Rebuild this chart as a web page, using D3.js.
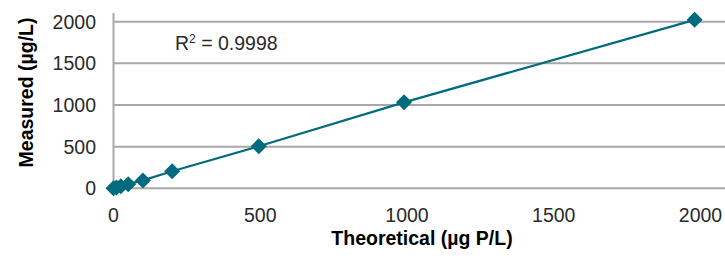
<!DOCTYPE html>
<html><head><meta charset="utf-8">
<script src="https://cdn.jsdelivr.net/npm/d3@7"></script>
<style>body{margin:0;background:#fff}svg{display:block}</style>
</head><body><svg id="c" width="725" height="265"></svg>
<script>
const theoretical = [0, 10, 25, 50, 100, 200, 495, 990, 1980];
const measured = [2, 10, 24, 50, 95, 205, 505, 1032, 2022];
const xTicks = [0, 500, 1000, 1500, 2000];
const yTicks = [0, 500, 1000, 1500, 2000];
const r2Label = "0.9998";
const xTitle = "Theoretical (µg P/L)";
const yTitle = "Measured (µg/L)";

const svg = d3.select("#c");
const font = "'Liberation Sans', Arial, Helvetica, sans-serif";
const x = d3.scaleLinear().domain([0, 2000]).range([113.5, 700.5]);
const y = d3.scaleLinear().domain([0, 2000]).range([188.3, 21.7]);
const plotRight = 725, plotTop = 13;
const grid = "#a8a8a8", teal = "#006b7f";

// gridlines
svg.append("g").selectAll("line").data(yTicks).join("line")
  .attr("x1", x(0)).attr("x2", plotRight)
  .attr("y1", d => y(d)).attr("y2", d => y(d))
  .attr("stroke", grid).attr("stroke-width", 2);
// y axis line
svg.append("line").attr("x1", x(0)).attr("x2", x(0))
  .attr("y1", plotTop).attr("y2", y(0)+1).attr("stroke", grid).attr("stroke-width", 2);

// y tick labels
svg.append("g").selectAll("text").data(yTicks).join("text")
  .attr("x", 96).attr("y", d => y(d)).attr("dy", "0.36em")
  .attr("text-anchor", "end").attr("font-family", font).attr("font-size", 19.5)
  .attr("fill", "#2a2a2a").text(d => d);
// x tick labels
svg.append("g").selectAll("text").data(xTicks).join("text")
  .attr("x", d => x(d)).attr("y", 222)
  .attr("text-anchor", "middle").attr("font-family", font).attr("font-size", 19.5)
  .attr("fill", "#2a2a2a").text(d => d);

// titles
svg.append("text").attr("x", 422).attr("y", 245).attr("text-anchor", "middle")
  .attr("font-family", font).attr("font-size", 19.5).attr("font-weight", "bold")
  .attr("fill", "#000").text(xTitle);
svg.append("text").attr("transform", "translate(33,92.5) rotate(-90)")
  .attr("text-anchor", "middle")
  .attr("font-family", font).attr("font-size", 19.5).attr("font-weight", "bold")
  .attr("fill", "#000").text(yTitle);

// R² label
const rt = svg.append("text").attr("x", 175).attr("y", 50)
  .attr("font-family", font).attr("font-size", 19.5).attr("fill", "#2a2a2a");
rt.append("tspan").text("R");
rt.append("tspan").attr("font-size", 12).attr("dy", -7).text("2");
rt.append("tspan").attr("dy", 7).text(" = " + r2Label);

// line and markers
const pts = theoretical.map((t, i) => [t, measured[i]]);
svg.append("path").datum(pts)
  .attr("d", d3.line().x(d => x(d[0])).y(d => y(d[1])))
  .attr("fill", "none").attr("stroke", teal).attr("stroke-width", 2.2);
const h = 8;
svg.append("g").selectAll("path").data(pts).join("path")
  .attr("transform", d => `translate(${x(d[0])},${y(d[1])})`)
  .attr("d", `M0,${-h}L${h},0L0,${h}L${-h},0Z`)
  .attr("fill", teal);
</script></body></html>
